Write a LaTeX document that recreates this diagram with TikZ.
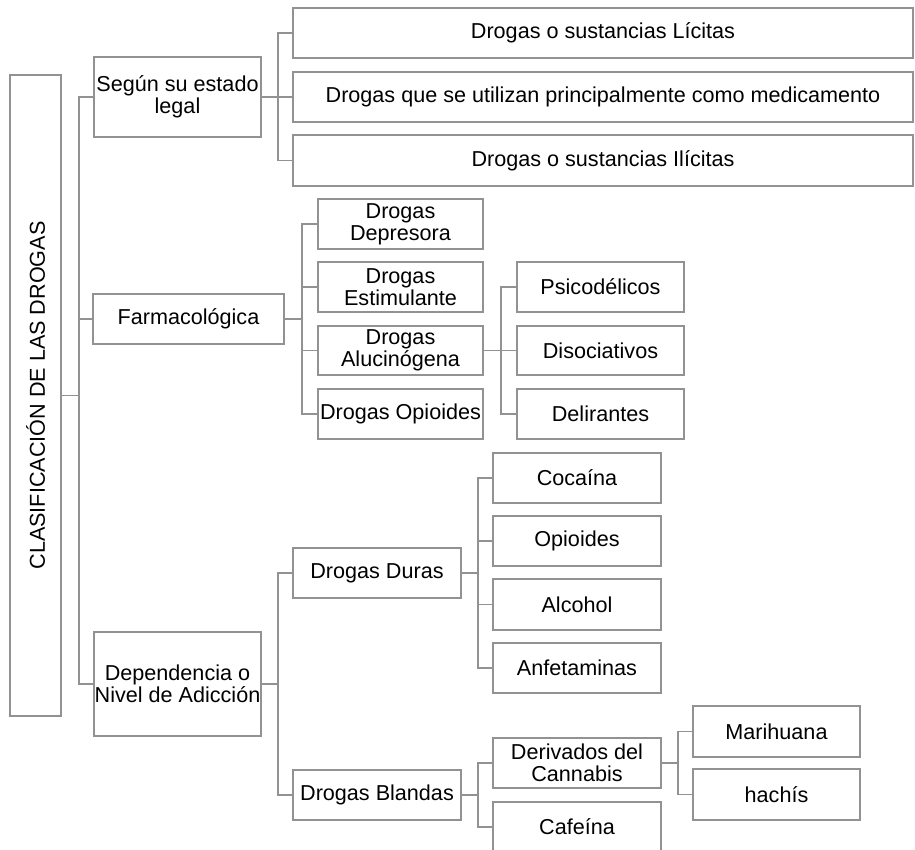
\documentclass[tikz,border=0pt]{standalone}
\usepackage{fontspec}
\setmainfont{Liberation Sans}
\usepackage{graphicx}
\definecolor{linegray}{HTML}{929292}
\tikzset{
  box/.style={draw=linegray, line width=1.9pt, fill=white, align=center, inner sep=0pt,
    font=\fontsize{21.6}{22}\selectfont, text=black},
  conn/.style={draw=linegray, line width=1.9pt}
}
\newcommand\bx[6]{\node[box, minimum width={(#4-#2)}, minimum height={(#5-#3)}] (#1) at ({(#2+#4)/2},{(#3+#5)/2}) {#6};}
\begin{document}
\begin{tikzpicture}[x=1pt,y=-1pt]
\useasboundingbox (0,0) rectangle (915,850);
\begin{scope}
\clip (0,0) rectangle (915,850);
\bx{main}{10}{75}{61}{716}{\rotatebox{90}{CLASIFICACIÓN DE LAS DROGAS}}
\bx{seg}{94}{57}{261}{137}{Según su estado\\legal}
\bx{lic}{293}{8}{913}{58}{Drogas o sustancias Lícitas}
\bx{med}{293}{72}{913}{122}{Drogas que se utilizan principalmente como medicamento}
\bx{ili}{293}{135}{913}{186}{Drogas o sustancias Ilícitas}
\bx{farm}{93}{294}{284}{344}{Farmacológica}
\bx{depr}{318}{199}{483}{249}{Drogas\\Depresora}
\bx{est}{318}{262}{483}{312}{Drogas\\Estimulante}
\bx{alu}{318}{326}{483}{375}{Drogas\\Alucinógena}
\bx{opi}{318}{389}{483}{439}{Drogas Opioides}
\bx{psi}{517}{262}{684}{312}{Psicodélicos}
\bx{dis}{517}{326}{684}{375}{Disociativos}
\bx{deli}{517}{389}{684}{439}{Delirantes}
\bx{depn}{94}{632}{261}{736}{Dependencia o\\Nivel de Adicción}
\bx{dur}{293}{548}{461}{598}{Drogas Duras}
\bx{bla}{293}{770}{461}{820}{Drogas Blandas}
\bx{coc}{493}{453}{661}{503}{Cocaína}
\bx{opd}{493}{516}{661}{566}{Opioides}
\bx{alc}{493}{579}{661}{630}{Alcohol}
\bx{anf}{493}{643}{661}{693}{Anfetaminas}
\bx{der}{493}{738}{661}{788}{Derivados del\\Cannabis}
\bx{caf}{493}{802}{661}{852}{Cafeína}
\bx{mar}{693}{706}{860}{757}{Marihuana}
\bx{hac}{693}{769}{860}{820}{hachís}
% connectors
\foreach \c in {seg,farm,depn} \draw[conn] (main.east) -- ++(17,0) |- (\c.west);
\foreach \c in {lic,med,ili} \draw[conn] (seg.east) -- ++(16,0) |- (\c.west);
\foreach \c in {depr,est,alu,opi} \draw[conn] (farm.east) -- ++(17,0) |- (\c.west);
\foreach \c in {psi,dis,deli} \draw[conn] (alu.east) -- ++(17,0) |- (\c.west);
\foreach \c in {dur,bla} \draw[conn] (depn.east) -- ++(16,0) |- (\c.west);
\foreach \c in {coc,opd,alc,anf} \draw[conn] (dur.east) -- ++(16,0) |- (\c.west);
\foreach \c in {der,caf} \draw[conn] (bla.east) -- ++(16,0) |- (\c.west);
\foreach \c in {mar,hac} \draw[conn] (der.east) -- ++(16,0) |- (\c.west);
\end{scope}
\end{tikzpicture}
\end{document}
